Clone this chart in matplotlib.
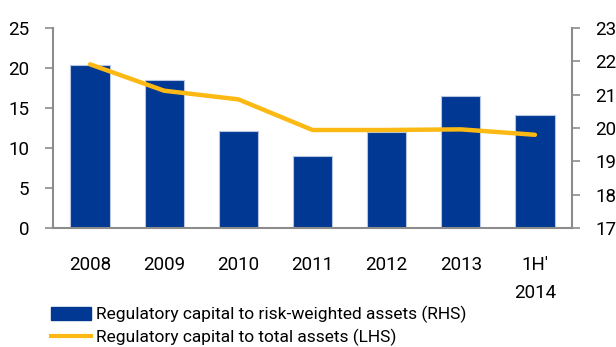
import matplotlib
matplotlib.use("Agg")
import matplotlib.pyplot as plt
from matplotlib.patches import Patch
from matplotlib.lines import Line2D

categories = ["2008", "2009", "2010", "2011", "2012", "2013", "1H'\n2014"]
capital_to_rwa = [21.88, 21.44, 19.90, 19.15, 19.88, 20.96, 20.39]       # RHS
capital_to_assets = [20.46, 17.16, 16.08, 12.25, 12.25, 12.33, 11.65]   # LHS

left_ticks = [0, 5, 10, 15, 20, 25]
right_ticks = [17, 18, 19, 20, 21, 22, 23]

bar_color = "#003893"
line_color = "#FDB913"
spine_color = "#8C8C8C"

plt.rcParams["font.family"] = ["Roboto", "DejaVu Sans"]
fs = 13.5
legend_fs = 12.5

fig = plt.figure(figsize=(6.16, 3.47), dpi=100)
ax = fig.add_axes([53 / 616, 1 - 228 / 347, (572 - 53) / 616, 200 / 347])
ax2 = ax.twinx()

x = list(range(len(categories)))

ax2.bar(x, capital_to_rwa, width=0.53, bottom=0, color=bar_color,
        edgecolor="#B8C6E0", linewidth=0.8, zorder=1)
ax2.set_ylim(17, 23)
ax2.set_yticks(right_ticks)

ax.plot(x, capital_to_assets, color=line_color, linewidth=3.2,
        solid_capstyle="round", zorder=5)
ax.set_ylim(0, 25)
ax.set_yticks(left_ticks)
ax.set_xlim(-0.5, len(categories) - 0.5)
ax.set_xticks(x)
ax.set_xticklabels(categories, fontsize=fs, linespacing=1.75, va="top")

# line above bars
ax.set_zorder(ax2.get_zorder() + 1)
ax.patch.set_visible(False)

for a in (ax, ax2):
    for s in a.spines.values():
        s.set_color(spine_color)
        s.set_linewidth(1.5)
    a.spines["top"].set_visible(False)
    a.tick_params(axis="y", colors=spine_color, labelcolor="black",
                  labelsize=fs, length=6, width=1.2, pad=11)
ax.spines["right"].set_visible(False)
ax2.spines["left"].set_visible(False)
ax2.spines["bottom"].set_visible(False)
ax.tick_params(axis="x", length=0, pad=20)

handles = [
    Patch(facecolor=bar_color, edgecolor=bar_color),
    Line2D([0], [0], color=line_color, linewidth=3),
]
labels = [
    "Regulatory capital to risk-weighted assets (RHS)",
    "Regulatory capital to total assets (LHS)",
]
fig.legend(handles, labels, loc="upper left", bbox_to_anchor=(51 / 616, 1 - 306 / 347),
           frameon=False, fontsize=legend_fs, handlelength=2.3, handleheight=0.8,
           handletextpad=0.3, labelspacing=0.3, borderpad=0, borderaxespad=0)

fig.savefig("out.png", dpi=100)
